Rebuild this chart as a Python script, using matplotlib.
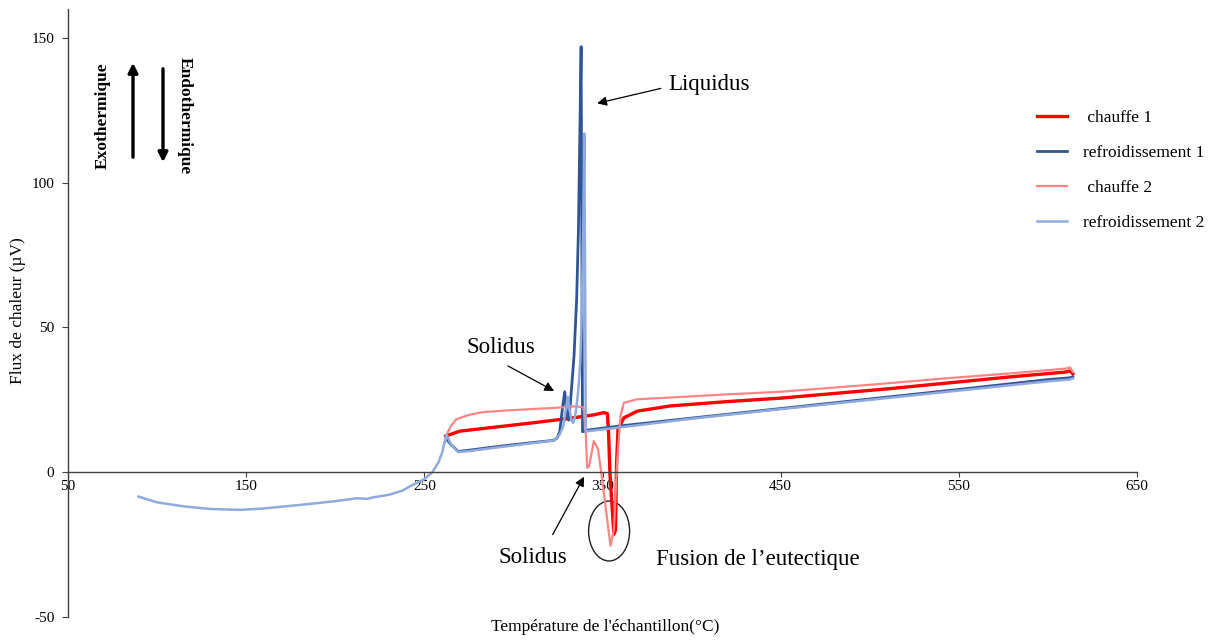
import matplotlib
matplotlib.use("Agg")
import matplotlib.pyplot as plt
from matplotlib.patches import Ellipse, FancyArrowPatch

plt.rcParams['font.family'] = ['Liberation Serif', 'DejaVu Serif']
plt.rcParams['axes.unicode_minus'] = False

# chauffe 1
t_ch1 = [262, 270, 290, 310, 330, 345, 350.7, 352.8, 353.5, 354.2, 356.4, 357.3, 357.9,
         358.7, 362, 369.5, 388, 420, 450, 480, 510, 550, 580, 610, 612.5, 614]
v_ch1 = [12.5, 14.2, 15.6, 17.0, 18.5, 19.8, 20.6, 20.2, 12, -0.7, -21.4, -20, 3,
         14.8, 18.8, 21.1, 22.9, 24.4, 25.6, 27.2, 28.8, 31.2, 33.0, 34.6, 35, 34]

# refroidissement 1
t_rf1 = [614, 612, 600, 550, 500, 450, 400, 360, 342, 338.8, 338.5, 338.0, 337.3, 336.5,
         335.5, 334, 333, 332, 331, 330, 328.8, 327.5, 326, 324.5, 322.5, 310, 290,
         275, 269, 265, 263]
v_rf1 = [33, 32.6, 32, 28.6, 25.3, 22, 18.7, 16, 14.6, 14, 60, 147, 118, 84,
         60, 40, 32, 24, 18, 20, 27.8, 22, 14, 11.8, 11, 10.2, 8.8,
         7.6, 7.2, 9.5, 11]

# chauffe 2
t_ch2 = [262, 265, 268, 275, 282, 295, 310, 325, 335, 339.3, 340.5, 341.4, 342.5, 345.1,
         347.5, 349.8, 352.6, 354.5, 356.4, 358.2, 360.1, 362, 369.5, 388, 420, 450,
         500, 540, 580, 610, 612.5, 614]
v_ch2 = [12.5, 16, 18.3, 19.8, 20.7, 21.3, 21.8, 22.3, 22.8, 22.4, 15, 1.5, 2, 10.8,
         8, -2.4, -16.2, -25.4, -19.7, 3.3, 19.4, 24, 25.2, 25.8, 26.9, 27.8,
         30.2, 32.3, 34.2, 35.8, 36.2, 34.6]

# refroidissement 2
t_rf2 = [614, 612, 600, 550, 500, 450, 400, 360, 342, 340.6, 340.2, 339.8, 339.2, 338.4,
         337.5, 336.5, 335.5, 334.5, 333.5, 332.5, 331.5, 330.5, 329.5, 328, 326, 323,
         310, 290, 275, 269, 265, 262.5, 261, 260, 258, 254.5, 250, 243, 237.5, 230,
         221, 218, 212, 200, 180, 160, 147, 130, 115, 100, 89.5]
v_rf2 = [32.4, 32, 31.4, 28.2, 25, 21.8, 18.5, 15.5, 14.2, 14, 70, 117, 85, 56,
         38, 29, 23, 19, 17, 18, 22, 26, 22, 16, 13, 11,
         10, 8.5, 7.3, 7, 9.5, 13, 9.5, 6.8, 3.5, 0, -2.4, -4.5, -6.4, -7.8,
         -8.7, -9.2, -9, -10, -11.3, -12.5, -13, -12.7, -11.8, -10.4, -8.4]

series = [
    (t_ch1, v_ch1, ' chauffe 1', '#FF0000', 2.4),
    (t_rf1, v_rf1, 'refroidissement 1', '#2F5597', 2.0),
    (t_ch2, v_ch2, ' chauffe 2', '#FF8585', 1.6),
    (t_rf2, v_rf2, 'refroidissement 2', '#8FAADC', 1.8),
]

xticks = [50, 150, 250, 350, 450, 550, 650]
yticks = [-50, 0, 50, 100, 150]

W, H = 1212, 642
fig = plt.figure(figsize=(W / 100, H / 100), dpi=100)
ax = fig.add_axes([68 / W, 25 / H, (1137 - 68) / W, (617 - 9) / H])

for t, v, lab, col, lw in series:
    ax.plot(t, v, color=col, lw=lw, label=lab, solid_joinstyle='round')

ax.set_xlim(50, 650)
ax.set_ylim(-50, 160)
ax.spines['top'].set_visible(False)
ax.spines['right'].set_visible(False)
ax.spines['bottom'].set_position(('data', 0))
ax.spines['left'].set_bounds(-50, 160)
for s in ['bottom', 'left']:
    ax.spines[s].set_color('#404040')
    ax.spines[s].set_linewidth(1.0)
ax.set_xticks(xticks)
ax.set_yticks(yticks)
ax.tick_params(axis='x', direction='out', length=3.6, pad=2, labelsize=11, color='#404040')
ax.tick_params(axis='y', direction='out', length=4.3, pad=5.5, labelsize=11, color='#404040')

fig.text(605 / W, 1 - 627 / H, "Température de l'échantillon(°C)", ha='center', va='center', fontsize=12.5)
fig.text(18 / W, 1 - 311 / H, 'Flux de chaleur (µV)', ha='center', va='center', rotation=90, fontsize=12.5)

ax.legend(loc='upper left', bbox_to_anchor=(1037 / W, 1 - 110 / H), bbox_transform=fig.transFigure,
          frameon=False, fontsize=12.5, handlelength=1.75, handletextpad=0.9, labelspacing=1.08,
          borderpad=0, borderaxespad=0)

arrowprops = dict(arrowstyle='-|>', color='black', lw=0.9, mutation_scale=14)
ax.annotate('', xy=(345.5, 127.2), xytext=(384.3, 132.8), arrowprops=arrowprops)
ax.text(410, 134, 'Liquidus', ha='center', va='center', fontsize=16.5)
ax.annotate('', xy=(324.2, 27.6), xytext=(295.5, 37.2), arrowprops=arrowprops)
ax.text(292.7, 43.1, 'Solidus', ha='center', va='center', fontsize=16.5)
ax.annotate('', xy=(340.4, -0.7), xytext=(321.3, -22.4), arrowprops=arrowprops)
ax.text(311.2, -29.3, 'Solidus', ha='center', va='center', fontsize=16.5)
ax.text(437, -30.3, 'Fusion de l\u2019eutectique', ha='center', va='center', fontsize=16.5)
ax.add_patch(Ellipse((353.7, -20.3), 23, 20.7, fill=False, edgecolor='#202020', lw=1.0))

# exo / endo arrows
big = dict(arrowstyle='-|>', color='black', lw=2.4, mutation_scale=14)
fig.add_artist(FancyArrowPatch((133 / W, 1 - 160 / H), (133 / W, 1 - 60 / H),
                               transform=fig.transFigure, **big))
fig.add_artist(FancyArrowPatch((163 / W, 1 - 66 / H), (163 / W, 1 - 165 / H),
                               transform=fig.transFigure, **big))
fig.text(103 / W, 1 - 116 / H, 'Exothermique', rotation=90, ha='center', va='center',
         fontsize=12.5, fontweight='bold')
fig.text(185 / W, 1 - 116 / H, 'Endothermique', rotation=270, ha='center', va='center',
         fontsize=12.5, fontweight='bold')

fig.savefig('out.png', dpi=100)
